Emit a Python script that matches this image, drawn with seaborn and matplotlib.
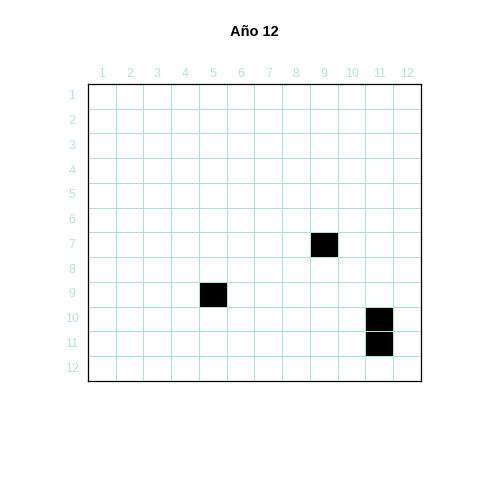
import numpy as np
import pandas as pd
import seaborn as sns
import matplotlib.pyplot as plt
from matplotlib.colors import ListedColormap

title = "Año 12"
labels = [str(i) for i in range(1, 13)]
# filled cells (row, column), 1-based
filled_rows = [7, 9, 10, 11]
filled_cols = [9, 5, 11, 11]

grid = np.zeros((12, 12), dtype=int)
for r, c in zip(filled_rows, filled_cols):
	grid[r - 1, c - 1] = 1
df = pd.DataFrame(grid, index=labels, columns=labels)

plt.rcParams["font.family"] = ["Liberation Sans", "DejaVu Sans"]
line_col = "#ade4cf"
text_col = "#b3e6d3"

fig = plt.figure(figsize=(4.8, 4.8), dpi=100)
ax = fig.add_axes([0.1833, 0.2063, 0.6937, 0.6187])

sns.heatmap(df, ax=ax, cmap=ListedColormap(["white", "black"]), vmin=0, vmax=1,
		cbar=False, linewidths=0.55, linecolor=line_col, square=False)

ax.xaxis.tick_top()
ax.tick_params(axis="both", length=0, colors=text_col, labelsize=9)
ax.tick_params(axis="x", pad=3)
ax.tick_params(axis="y", pad=11.5)
ax.set_xticklabels(labels, rotation=0)
ax.set_yticklabels(labels, rotation=0, ha="center")
ax.set_xlabel("")
ax.set_ylabel("")

for s in ax.spines.values():
	s.set_visible(True)
	s.set_color("black")
	s.set_linewidth(0.9)

fig.text(0.529, 0.933, title, ha="center", va="center", fontsize=10.5, fontweight="bold")

plt.savefig("out.png", dpi=100)
